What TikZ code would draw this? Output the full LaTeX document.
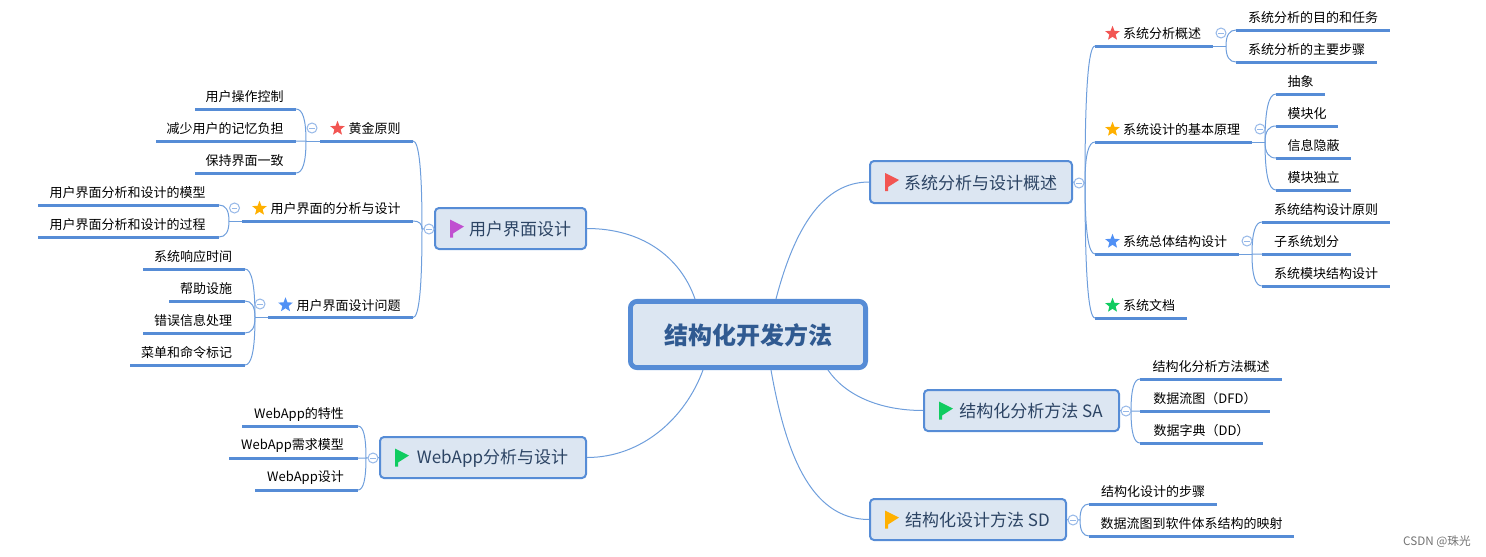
\documentclass[tikz,border=0pt]{standalone}
\usepackage{fontspec}
\setmainfont{Noto Sans CJK SC}
\usepackage{tikz}
\usetikzlibrary{shapes,calc}
\usepackage{xcolor}
\definecolor{mapblue}{RGB}{86,140,214}
\definecolor{linkblue}{RGB}{110,158,220}
\definecolor{foldblue}{RGB}{150,184,232}
\definecolor{boxfill}{RGB}{220,230,242}
\definecolor{topicink}{RGB}{44,68,100}
\definecolor{mainink}{RGB}{48,90,145}
\definecolor{softred}{RGB}{242,85,82}
\definecolor{softorange}{RGB}{255,176,0}
\definecolor{softblue}{RGB}{80,144,245}
\definecolor{softgreen}{RGB}{16,204,96}
\definecolor{softpurple}{RGB}{192,80,208}
\newcommand{\flagmark}[2]{\fill[#2] ([shift={(16,-9)}]#1.west) -- ++(14,7) -- ++(-11,7) -- ++(0,4) -- ++(-3,0) -- cycle;}
\newcommand{\branchto}[2]{\draw[link] (#1) .. controls ($(#1)!0.67!(#1 |- #2)$) and ($(#2)!0.67!(#1 |- #2)$) .. (#2);}
\newcommand{\lowered}[1]{\raisebox{-0.75pt}[\height][\depth]{#1}}
\tikzset{
    leaf/.style={inner sep=0pt, outer sep=0pt, minimum height=18pt, anchor=south, text=black,
        font={\fontsize{9.75}{12}\selectfont}},
    bar/.style={mapblue, line width=2.25pt},
    link/.style={linkblue, line width=0.75pt},
    topic/.style={draw=mapblue, fill=boxfill, line width=1.5pt, rounded corners=3pt, inner sep=0pt, text=topicink,
        font={\fontsize{12.75}{15}\selectfont}},
    starmark/.style={star, star points=5, star point ratio=2.3, inner sep=0pt, minimum size=11.5pt},
    fold/.style={circle, draw=foldblue, fill=white, line width=0.75pt, minimum size=7.5pt, inner sep=0pt,
        path picture={\draw[foldblue, line width=0.75pt] ([xshift=-2.2pt]path picture bounding box.center) -- ([xshift=2.2pt]path picture bounding box.center);}}
}
\begin{document}
\begin{tikzpicture}[x=0.75pt, y=-0.75pt]
    \useasboundingbox (0,0) rectangle (1486,557);

    \node[draw=mapblue, fill=boxfill, line width=3.6pt, rounded corners=5pt, minimum width=176.4pt, minimum height=49.7pt,
        text=mainink, font={\fontsize{18}{22}\selectfont\bfseries}] (main) at (748,334.5) {\lowered{结构化开发方法}};

    \foreach \nm/\col/\xa/\xb/\ya/\yb/\txt in {
        sys/softred/870/1072/161/203/系统分析与设计概述,
        sa/softgreen/924/1119/390/431/结构化分析方法 SA,
        sd/softorange/870/1066/499/540/结构化设计方法 SD,
        ui/softpurple/435/586/208/249/用户界面设计,
        web/softgreen/380/586/437/478/WebApp分析与设计} {
        \node[topic, minimum width={(\xb-\xa)*0.75pt}, minimum height={(\yb-\ya)*0.75pt}] (\nm) at ({(\xa+\xb)/2},{(\ya+\yb)/2}) {\hspace*{14.25pt}\lowered{\txt}};
        \flagmark{\nm}{\col}
    }

    \draw[link] ([shift={(28,0)}]main.north) .. controls +(19,-73) and +(-45,0) .. (sys.west);
    \draw[link] ([shift={(-53,0)}]main.north) .. controls +(-15,-43) and +(54,0) .. (ui.east);
    \draw[link] ([shift={(-45,0)}]main.south) .. controls +(-18,49) and +(54,0) .. (web.east);
    \draw[link] ([shift={(80,0)}]main.south) .. controls +(17,25) and +(-44,0) .. (sa.west);
    \draw[link] ([shift={(23,0)}]main.south) .. controls +(14,79) and +(-60,0) .. (sd.west);

    \coordinate (sysj) at (1085,183);
    \coordinate (uij) at (422,229);
    \coordinate (saj) at (1131,411);
    \coordinate (sdj) at (1080,520);
    \coordinate (webj) at (366,458);
    \coordinate (sumj) at (1226,46);
    \coordinate (prij) at (1265,142);
    \coordinate (allj) at (1252,254);
    \coordinate (goldj) at (306,141);
    \coordinate (modj) at (229,221);
    \coordinate (askj) at (255,317.5);
    \draw[link] (sys.east) -- (sysj);
    \draw[link] (ui.west) -- (uij);
    \draw[link] (sa.east) -- (saj);
    \draw[link] (sd.east) -- (sdj);
    \draw[link] (web.west) -- (webj);

    \foreach \nm/\col/\jn/\xa/\xb/\yy/\txt in {
        sum/softred/sysj/1095/1213/46/系统分析概述,
        pri/softorange/sysj/1095/1252/142/系统设计的基本原理,
        all/softblue/sysj/1095/1239/254/系统总体结构设计,
        doc/softgreen/sysj/1095/1187/318/系统文档} {
        \node[leaf, minimum width={(\xb-\xa)*0.75pt}] (\nm) at ({(\xa+\xb)/2},\yy) {\hspace*{12pt}\txt};
        \draw[bar] (\nm.south west) -- (\nm.south east);
        \branchto{\jn}{\nm.south west}
        \node[starmark, fill=\col] (\nm star) at ([shift={(17.5,-12.5)}]\nm.south west) {};
    }
    \foreach \nm/\col/\jn/\xa/\xb/\yy/\txt in {
        gold/softred/uij/320/413/141/黄金原则,
        mod/softorange/uij/242/413/221/用户界面的分析与设计,
        ask/softblue/uij/268/413/317.5/用户界面设计问题} {
        \node[leaf, minimum width={(\xb-\xa)*0.75pt}] (\nm) at ({(\xa+\xb)/2},\yy) {\hspace*{12pt}\txt};
        \draw[bar] (\nm.south west) -- (\nm.south east);
        \branchto{\jn}{\nm.south east}
        \node[starmark, fill=\col] (\nm star) at ([shift={(17.5,-12.5)}]\nm.south west) {};
    }
    \draw[link] (sum.south east) -- (sumj);
    \draw[link] (pri.south east) -- (prij);
    \draw[link] (all.south east) -- (allj);
    \draw[link] (gold.south west) -- (goldj);
    \draw[link] (mod.south west) -- (modj);
    \draw[link] (ask.south west) -- (askj);

    \foreach \nm/\jn/\xa/\xb/\yy/\txt in {
        suma/sumj/1236/1390/30/系统分析的目的和任务,
        sumb/sumj/1236/1377/62/系统分析的主要步骤,
        pria/prij/1276/1325/94/抽象,
        prib/prij/1276/1338/126/模块化,
        pric/prij/1276/1351/158/信息隐蔽,
        prid/prij/1276/1351/190/模块独立,
        alla/allj/1262/1390/222/系统结构设计原则,
        allb/allj/1262/1351/254/子系统划分,
        allc/allj/1262/1390/286/系统模块结构设计,
        saa/saj/1140/1282/379/结构化分析方法概述,
        sab/saj/1140/1270/411/数据流图（DFD）,
        sac/saj/1140/1263/443/数据字典（DD）,
        sda/sdj/1089/1217/504/结构化设计的步骤,
        sdb/sdj/1089/1294/536/数据流图到软件体系结构的映射} {
        \node[leaf, minimum width={(\xb-\xa)*0.75pt}] (\nm) at ({(\xa+\xb)/2},\yy) {\txt};
        \draw[bar] (\nm.south west) -- (\nm.south east);
        \branchto{\jn}{\nm.south west}
    }
    \foreach \nm/\jn/\xa/\xb/\yy/\txt in {
        golda/goldj/195/296/109/用户操作控制,
        goldb/goldj/156/296/141/减少用户的记忆负担,
        goldc/goldj/195/296/173/保持界面一致,
        moda/modj/38/219/205/用户界面分析和设计的模型,
        modb/modj/38/219/237/用户界面分析和设计的过程,
        aska/askj/143/245/269/系统响应时间,
        askb/askj/169/245/301/帮助设施,
        askc/askj/143/245/333/错误信息处理,
        askd/askj/130/245/365/菜单和命令标记,
        weba/webj/242/358/426/WebApp的特性,
        webb/webj/229/358/458/WebApp需求模型,
        webc/webj/255/358/490/WebApp设计} {
        \node[leaf, minimum width={(\xb-\xa)*0.75pt}] (\nm) at ({(\xa+\xb)/2},\yy) {\txt\hspace*{1.5pt}};
        \draw[bar] (\nm.south west) -- (\nm.south east);
        \branchto{\jn}{\nm.south east}
    }

    \foreach \nm/\xa/\yy in {sysf/1079/183, uif/429/229, saf/1126/411, sdf/1073/520, webf/373/458,
        sumf/1221/33, prif/1260/129, allf/1247/241, goldf/312/128, modf/234.5/208, askf/260/304} {
        \node[fold] (\nm) at (\xa,\yy) {};
    }

    \node[text=black!55, font={\fontsize{8.75}{10}\selectfont}] (mark) at (1437,542) {CSDN @珠光};
\end{tikzpicture}
\end{document}
